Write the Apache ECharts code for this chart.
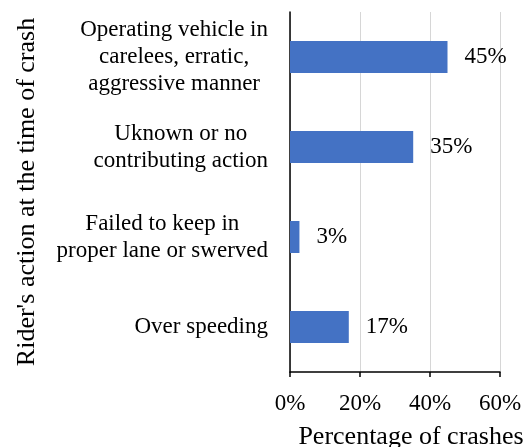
<!DOCTYPE html>
<html>
<head>
<meta charset="utf-8">
<script src="https://cdn.jsdelivr.net/npm/echarts@6/dist/echarts.min.js"></script>
<style>
    html, body { margin: 0; padding: 0; background: #fff; }
    #chart { width: 529px; height: 447px; }
</style>
</head>
<body>
<div id="chart"></div>
<script>
// rider actions, top to bottom
var actions = [
    'Operating vehicle in\ncarelees, erratic,\naggressive manner',
    'Uknown or no\ncontributing action',
    'Failed to keep in\nproper lane or swerved',
    'Over speeding'
];
// percentage of crashes (bar lengths)
var shares = [45, 35.2, 2.7, 16.8];
var xTicks = [0, 20, 40, 60];

var FONT = '"Liberation Serif", "Times New Roman", serif';

var chart = echarts.init(document.getElementById('chart'));

var option = {
    animation: false,
    grid: { left: 290, right: 29, top: 12, bottom: 75, outerBoundsMode: 'none' },
    xAxis: {
        type: 'value',
        min: xTicks[0],
        max: xTicks[xTicks.length - 1],
        interval: xTicks[1] - xTicks[0],
        name: 'Percentage of crashes',
        nameLocation: 'middle',
        nameGap: 52,
        nameTextStyle: { fontFamily: FONT, fontSize: 26, color: '#000', padding: [0, 0, 0, 32] },
        axisLine: { show: true, lineStyle: { color: '#000', width: 1.5 } },
        axisTick: { show: true, length: 5, lineStyle: { color: '#000', width: 1.5 } },
        axisLabel: { formatter: '{value}%', margin: 20, fontFamily: FONT, fontSize: 23, color: '#000' },
        splitLine: { show: true, lineStyle: { color: '#d6d6d6', width: 1 } }
    },
    yAxis: {
        type: 'category',
        data: actions,
        inverse: true,
        name: "Rider's action at the time of crash",
        nameLocation: 'middle',
        nameGap: 250,
        nameTextStyle: { fontFamily: FONT, fontSize: 26, color: '#000' },
        axisLine: { show: true, lineStyle: { color: '#000', width: 1.5 } },
        axisTick: { show: false },
        axisLabel: {
            margin: 22,
            formatter: function (v) {
                return v.split('\n').map(function (s) { return '{c|' + s + '}'; }).join('\n');
            },
            rich: {
                c: { align: 'center', fontFamily: FONT, fontSize: 23, lineHeight: 27, color: '#000' }
            }
        }
    },
    series: [{
        type: 'bar',
        data: shares,
        barWidth: 32,
        itemStyle: { color: '#4472C4' },
        label: {
            show: true,
            position: 'right',
            distance: 17,
            fontFamily: FONT,
            fontSize: 23,
            color: '#000',
            formatter: function (p) { return Math.round(p.value) + '%'; }
        }
    }]
};

chart.setOption(option);
</script>
</body>
</html>
